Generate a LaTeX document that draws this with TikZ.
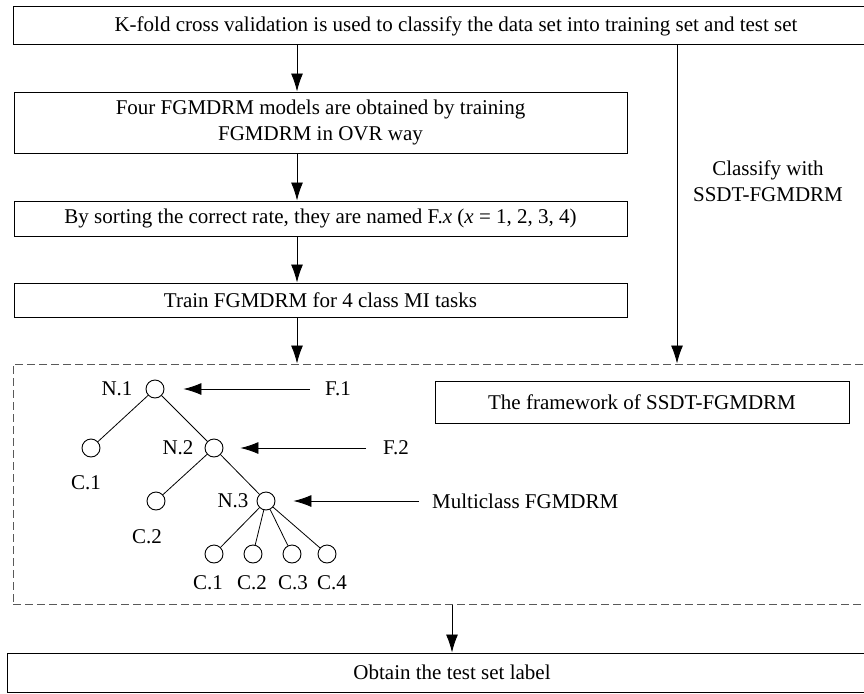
\documentclass[tikz,border=0pt]{standalone}
\usepackage{fontspec}
\setmainfont{Liberation Serif}
\usetikzlibrary{arrows.meta}
\begin{document}
\begin{tikzpicture}
  [x=1pt,y=-1pt,every node/.style={font=\fontsize{21}{26}\selectfont}]
  \tikzstyle{box} = [draw,line width=1pt,inner sep=0pt,align=center]
  \tikzstyle{leaf} = [draw,circle,line width=0.9pt,minimum size=18pt,inner sep=0pt]
  \tikzstyle{arr} = [line width=0.9pt,-{Latex[length=18pt,width=12pt]}]
  \tikzstyle{tag} = [inner sep=0pt]
  \useasboundingbox (0,0) rectangle (864,693);
  % steps
  \node[box,minimum width=886pt,minimum height=38pt] (split) at (456,26) {K-fold cross validation is used to classify the data set into training set and test set};
  \node[box,minimum width=613pt,minimum height=61pt] (models) at (320.5,122.5) {Four FGMDRM models are obtained by training\\FGMDRM in OVR way};
  \node[box,minimum width=613pt,minimum height=35pt] (sorted) at (320.5,218.5) {By sorting the correct rate, they are named F.\textit{x} (\textit{x} = 1, 2, 3, 4)};
  \node[box,minimum width=613pt,minimum height=34pt] (train) at (320.5,300) {Train FGMDRM for 4 class MI tasks};
  \node[box,dash pattern=on 8pt off 4pt,draw=black!65,minimum width=887pt,minimum height=240pt] (frame) at (456.5,484) {};
  \node[box,minimum width=414pt,minimum height=42pt] (title) at (642,402) {The framework of SSDT-FGMDRM};
  \node[box,minimum width=890pt,minimum height=39pt] (result) at (452,672.5) {Obtain the test set label};
  \node[align=center] (classify) at (768,181.5) {Classify with\\SSDT-FGMDRM};
  \coordinate (cl) at (297,0);
  \coordinate (cr) at (677,0);
  \coordinate (cb) at (452,0);
\foreach \source/\dest in {split/models,models/sorted,sorted/train,train/frame}
   \draw[arr] (\source.south -| cl) -- (\dest.north -| cl);
  \draw[arr] (split.south -| cr) -- (frame.north -| cr);
  \draw[arr] (frame.south -| cb) -- (result.north -| cb);
  % tree
  \node[leaf] (n1) at (155,389) {};
  \node[leaf] (c1) at (91,448) {};
  \node[leaf] (n2) at (214,448) {};
  \node[leaf] (c2) at (156,501) {};
  \node[leaf] (n3) at (266,501) {};
  \node[leaf] (l1) at (214,554) {};
  \node[leaf] (l2) at (253,554) {};
  \node[leaf] (l3) at (292,554) {};
  \node[leaf] (l4) at (327,554) {};
\foreach \source/\dest in {n1/c1,n1/n2,n2/c2,n2/n3,n3/l1,n3/l2,n3/l3,n3/l4}
   \draw[line width=0.8pt] (\source) -- (\dest);
  \node[tag] (tn1) at (117,389) {N.1};
  \node[tag] (tn2) at (178,448) {N.2};
  \node[tag] (tn3) at (233,501) {N.3};
  \node[tag] (tc1) at (86,483) {C.1};
  \node[tag] (tc2) at (147,537) {C.2};
  \node[tag] (tl1) at (208,583) {C.1};
  \node[tag] (tl2) at (252,583) {C.2};
  \node[tag] (tl3) at (293,583) {C.3};
  \node[tag] (tl4) at (332,583) {C.4};
  \node[tag,anchor=west] (f1) at (325,389) {F.1};
  \node[tag,anchor=west] (f2) at (383,448) {F.2};
  \node[tag,anchor=west] (mc) at (432,501) {Multiclass FGMDRM};
  \draw[arr,shorten <=15pt,shorten >=19pt] (f1) -- (n1);
  \draw[arr,shorten <=17pt,shorten >=17pt] (f2) -- (n2);
  \draw[arr,shorten <=13pt,shorten >=18pt] (mc) -- (n3);
\end{tikzpicture}
\end{document}
